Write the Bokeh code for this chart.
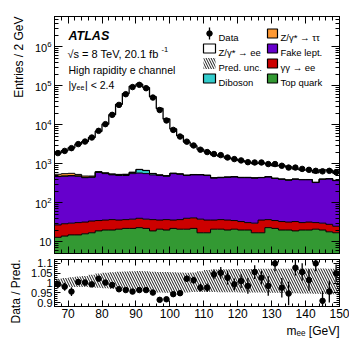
import numpy as np
from bokeh.plotting import figure
from bokeh.models import (Range1d, FixedTicker, LinearAxis, LogAxis, Label, LinearScale,
                          CustomJSTickFormatter, Title)
from bokeh.layouts import column
from bokeh.embed import file_html
from bokeh.resources import INLINE

FONT = "Liberation Sans"

# ---------------- data (bins of 2 GeV, 66-150 GeV) ----------------
edges = np.arange(66, 151, 2)
centers = edges[:-1] + 1

data_counts = [1880, 2140, 2520, 3200, 3720, 4720, 7000, 10400, 18000, 32400,
               61000, 93000, 106000, 87000, 50000, 24000, 12900, 7400, 5000, 3700,
               2950, 2300, 2000, 1780, 1670, 1450, 1320, 1220, 1100, 1080,
               1080, 985, 985, 890, 800, 800, 740, 700, 660, 640,
               660, 610]

top_quark = [13, 14, 15, 15, 16, 17, 19, 20, 20, 21,
             22, 22, 23, 22, 19, 21, 20, 22, 21, 21,
             22, 17, 17, 21, 21, 20, 21, 20, 20, 17,
             17, 23, 22, 20, 20, 19, 20, 20, 21, 20,
             18, 17]
gamgam = [14, 15, 15, 16, 16, 17, 16, 16, 17, 15,
          15, 16, 17, 16, 18, 15, 17, 14, 16, 19,
          19, 21, 19, 15, 16, 16, 14, 13, 11, 13,
          19, 14, 13, 13, 12, 14, 11, 12, 10, 10,
          10, 8]
fake = [443, 451, 460, 449, 408, 416, 565, 524, 483, 464,
        463, 522, 540, 522, 483, 464, 443, 524, 503, 460,
        479, 482, 464, 394, 403, 414, 425, 407, 409, 400,
        404, 423, 385, 367, 348, 367, 359, 358, 299, 370,
        382, 345]
diboson = [8, 8, 9, 9, 10, 10, 12, 14, 18, 25,
           30, 40, 130, 110, 40, 15, 10, 9, 8, 8,
           8, 7, 7, 7, 7, 6, 6, 6, 6, 5,
           5, 5, 5, 5, 5, 5, 4, 4, 4, 4,
           4, 4]
tautau = [60, 70, 70, 45, 35, 25, 20, 15, 12, 10,
          10, 10, 10, 8, 7, 6, 6, 5, 5, 5,
          4, 4, 4, 3, 3, 3, 3, 3, 3, 3,
          2, 2, 2, 2, 2, 2, 2, 2, 2, 2,
          2, 2]
zee = [1350, 1620, 2000, 2650, 3230, 4270, 6200, 9800, 17600, 32900,
       62700, 96700, 109000, 89600, 52000, 25700, 13600, 7270, 4720, 3100,
       2370, 1820, 1530, 1260, 1130, 950, 850, 750, 660, 580,
       600, 525, 460, 500, 450, 330, 300, 290, 260, 290,
       270, 200]

ratio = [0.993, 0.981, 0.956, 1.005, 1.002, 0.993, 1.022, 1.002, 0.990, 0.968,
         0.964, 0.956, 0.964, 0.964, 0.951, 0.914, 0.917, 0.943, 0.948, 1.022,
         1.014, 0.976, 0.976, 1.044, 1.052, 1.027, 0.993, 1.010, 0.985, 1.056,
         1.027, 0.985, 1.100, 0.976, 0.946, 1.078, 1.056, 1.015, 1.100, 0.909,
         0.956, 1.049]
ratio_err = [0.020, 0.020, 0.022, 0.015, 0.014, 0.012, 0.010, 0.008, 0.006, 0.005,
             0.004, 0.004, 0.004, 0.004, 0.005, 0.006, 0.008, 0.011, 0.014, 0.016,
             0.018, 0.020, 0.022, 0.025, 0.030, 0.035, 0.030, 0.035, 0.040, 0.035,
             0.035, 0.050, 0.040, 0.050, 0.060, 0.040, 0.045, 0.055, 0.040, 0.050,
             0.055, 0.045]
band_low = [0.981, 0.981, 0.980, 0.980, 0.979, 0.977, 0.976, 0.973, 0.970, 0.968,
            0.965, 0.962, 0.959, 0.957, 0.955, 0.952, 0.950, 0.949, 0.949, 0.952,
            0.954, 0.954, 0.954, 0.954, 0.953, 0.953, 0.953, 0.952, 0.952, 0.951,
            0.951, 0.950, 0.950, 0.949, 0.948, 0.948, 0.947, 0.946, 0.945, 0.944,
            0.943, 0.943]
band_high = [1.022, 1.026, 1.030, 1.033, 1.036, 1.042, 1.049, 1.052, 1.055, 1.057,
             1.059, 1.060, 1.061, 1.060, 1.058, 1.056, 1.056, 1.055, 1.054, 1.052,
             1.054, 1.060, 1.066, 1.069, 1.070, 1.070, 1.071, 1.071, 1.072, 1.072,
             1.073, 1.073, 1.073, 1.073, 1.073, 1.074, 1.074, 1.074, 1.074, 1.074,
             1.073, 1.073]

x_major = [70, 80, 90, 100, 110, 120, 130, 140, 150]
y_major = [10, 1e2, 1e3, 1e4, 1e5, 1e6]
r_major = [0.9, 0.95, 1.0, 1.05, 1.1]
r_labels = ["0.9", "0.95", "1", "1.05", "1.1"]

components = [("Top quark", top_quark, "#339933"),
              ("\u03b3\u03b3 \u2192 ee", gamgam, "#cc0000"),
              ("Fake lept.", fake, "#6600cc"),
              ("Diboson", diboson, "#33cccc"),
              ("Z/\u03b3* \u2192 \u03c4\u03c4", tautau, "#ff9933"),
              ("Z/\u03b3* \u2192 ee", zee, "#ffffff")]

# ---------------- layout constants ----------------
W = 349
FW, FH = 285, 237
x_range = Range1d(66, 150)
x_minor = list(range(66, 151, 2))
y_minor = [k * 10 ** n for n in range(0, 7) for k in range(2, 10)]
r_minor = [round(0.88 + 0.01 * i, 2) for i in range(25)]


def ext(a):
    a = np.asarray(a, dtype=float)
    return np.append(a, a[-1])


def style(ax, labels=True, tin=7, tmin=4, size="12px", standoff=3):
    ax.major_tick_in = tin
    ax.major_tick_out = 0
    ax.minor_tick_in = tmin
    ax.minor_tick_out = 0
    ax.axis_line_color = "black"
    ax.major_tick_line_color = "black"
    ax.minor_tick_line_color = "black"
    if labels:
        ax.major_label_text_font = FONT
        ax.major_label_text_font_size = size
        ax.major_label_text_color = "black"
        ax.major_label_standoff = standoff
    else:
        ax.formatter = CustomJSTickFormatter(code="return ''")
        ax.major_label_text_font_size = "2px"
        ax.major_label_standoff = 0


def side_title(fig, text, side, standoff):
    fig.add_layout(Title(text=text, align="right", text_font=FONT, text_font_size="12px",
                         text_font_style="normal", text_color="black", standoff=standoff,
                         offset=0), side)


p = figure(width=W, height=256, x_range=x_range, y_range=Range1d(5, 6e6),
           y_axis_type="log", output_backend="svg", toolbar_location=None,
           min_border_left=54, min_border_right=10, min_border_top=16, min_border_bottom=3,
           extra_x_ranges={"lx": Range1d(0, FW)}, extra_y_ranges={"ly": Range1d(0, FH)},
           extra_x_scales={"lx": LinearScale()}, extra_y_scales={"ly": LinearScale()})
p.xgrid.visible = False
p.ygrid.visible = False
p.outline_line_color = "black"
p.background_fill_color = "white"
p.border_fill_color = "white"

cum = np.zeros(len(centers))
tops = []
for name, vals, color in components:
    top = cum + np.array(vals, dtype=float)
    p.varea_step(x=edges, y1=ext(np.maximum(cum, 1.0)), y2=ext(top), step_mode="after",
                 fill_color=color)
    tops.append(top)
    cum = top
total = cum

# hatched prediction uncertainty on the total
p.varea_step(x=edges, y1=ext(total * np.array(band_low)), y2=ext(total * np.array(band_high)),
             step_mode="after", fill_alpha=0, hatch_pattern="\\", hatch_color="#555555",
             hatch_scale=5, hatch_weight=0.8)

for i, top in enumerate(tops):
    p.step(x=edges, y=ext(top), mode="after", line_color="black",
           line_width=1.3 if i == len(tops) - 1 else 1)

p.scatter(x=centers, y=data_counts, size=5.5, color="black")

# axes
p.xaxis.ticker = FixedTicker(ticks=x_major, minor_ticks=x_minor)
style(p.xaxis[0], labels=False, tin=7, tmin=4)
p.yaxis.ticker = FixedTicker(ticks=y_major, minor_ticks=y_minor)
style(p.yaxis[0], labels=True, tin=8, tmin=4, size="11px", standoff=3)
p.yaxis.major_label_overrides = {10: "10"}
ax_top = LinearAxis(ticker=FixedTicker(ticks=x_major, minor_ticks=x_minor))
style(ax_top, labels=False, tin=7, tmin=4)
p.add_layout(ax_top, "above")
ax_right = LogAxis(ticker=FixedTicker(ticks=y_major, minor_ticks=y_minor))
style(ax_right, labels=False, tin=8, tmin=4)
p.add_layout(ax_right, "right")
side_title(p, "Entries / 2 GeV", "left", 12)


def lab(fig, x, y, text, size="10.5px", style_="normal", align="left"):
    fig.add_layout(Label(x=x, y=y, x_units="screen", y_units="screen", text=text,
                         text_font=FONT, text_font_size=size, text_font_style=style_,
                         text_align=align, text_baseline="alphabetic",
                         text_color="black"))


lab(p, 14, 218, "ATLAS", size="12.5px", style_="bold italic")
lab(p, 13, 200, "\u221as = 8 TeV, 20.1 fb", size="11px")
lab(p, 107, 204.5, "-1", size="7.5px")
lab(p, 14, 183.5, "High rapidity e channel", size="10.5px")
lab(p, 14, 168.5, "|y", size="10.5px")
lab(p, 22, 166, "ee", size="7px")
lab(p, 30.5, 168.5, "| < 2.4", size="10.5px")

# legend (drawn in frame pixel coordinates)
leg_rows = [220, 205, 190, 175]
col1_x, col2_x = 149, 213
gw, gh = 12, 9
p.segment(x0=[col1_x + gw / 2], y0=[leg_rows[0] - 6], x1=[col1_x + gw / 2], y1=[leg_rows[0] + 6],
          line_color="black", line_width=1.3, x_range_name="lx", y_range_name="ly")
p.scatter(x=[col1_x + gw / 2], y=[leg_rows[0]], size=5.5, color="black",
          x_range_name="lx", y_range_name="ly")
p.quad(left=[col1_x], right=[col1_x + gw], bottom=[leg_rows[1] - gh / 2], top=[leg_rows[1] + gh / 2],
       fill_color="white", line_color="black", line_width=1.2, x_range_name="lx", y_range_name="ly")
p.quad(left=[col1_x], right=[col1_x + gw], bottom=[leg_rows[2] - gh / 2 - 1], top=[leg_rows[2] + gh / 2 + 1],
       fill_alpha=0, line_color=None, hatch_pattern="\\", hatch_color="black", hatch_scale=5,
       hatch_weight=0.9, x_range_name="lx", y_range_name="ly")
p.quad(left=[col1_x], right=[col1_x + gw], bottom=[leg_rows[3] - gh / 2], top=[leg_rows[3] + gh / 2],
       fill_color="#33cccc", line_color="black", line_width=1.2, x_range_name="lx", y_range_name="ly")
col1_labels = ["Data", "Z/\u03b3* \u2192 ee", "Pred. unc.", "Diboson"]
for yy, t in zip(leg_rows, col1_labels):
    lab(p, col1_x + gw + 3, yy - 3.5, t, size="9.5px")
col2 = [("Z/\u03b3* \u2192 \u03c4\u03c4", "#ff9933"), ("Fake lept.", "#6600cc"),
        ("\u03b3\u03b3 \u2192 ee", "#cc0000"), ("Top quark", "#339933")]
for yy, (t, c) in zip(leg_rows, col2):
    p.quad(left=[col2_x], right=[col2_x + 10], bottom=[yy - gh / 2], top=[yy + gh / 2],
           fill_color=c, line_color="black", line_width=1.2, x_range_name="lx", y_range_name="ly")
    lab(p, col2_x + 13, yy - 3.5, t, size="9.5px")

# ---------------- ratio panel ----------------
p2 = figure(width=W, height=88, x_range=x_range, y_range=Range1d(0.88, 1.12),
            output_backend="svg", toolbar_location=None,
            min_border_left=54, min_border_right=10, min_border_top=3, min_border_bottom=38)
p2.xgrid.visible = False
p2.ygrid.visible = False
p2.outline_line_color = "black"

p2.varea_step(x=edges, y1=ext(band_low), y2=ext(band_high), step_mode="after", fill_alpha=0,
              hatch_pattern="\\", hatch_color="black", hatch_scale=5, hatch_weight=0.9)
r = np.array(ratio)
e = np.array(ratio_err)
p2.segment(x0=centers, y0=r - e, x1=centers, y1=r + e, line_color="black", line_width=1.3)
p2.scatter(x=centers, y=ratio, size=5.5, color="black")

p2.xaxis.ticker = FixedTicker(ticks=x_major, minor_ticks=x_minor)
style(p2.xaxis[0], labels=True, tin=6, tmin=3, size="12px", standoff=2)
p2.yaxis.ticker = FixedTicker(ticks=r_major, minor_ticks=r_minor)
style(p2.yaxis[0], labels=True, tin=6, tmin=3, size="11px", standoff=2)
p2.yaxis.major_label_overrides = {k: v for k, v in zip(r_major, r_labels)}
ax2_top = LinearAxis(ticker=FixedTicker(ticks=x_major, minor_ticks=x_minor))
style(ax2_top, labels=False, tin=6, tmin=3)
p2.add_layout(ax2_top, "above")
ax2_right = LinearAxis(ticker=FixedTicker(ticks=r_major, minor_ticks=r_minor))
style(ax2_right, labels=False, tin=6, tmin=3)
p2.add_layout(ax2_right, "right")
side_title(p2, "m\u2091\u2091 [GeV]", "below", 2)
side_title(p2, "Data / Pred.", "left", 12)

layout = column(p, p2, spacing=0)
open("out.html", "w").write(file_html(layout, INLINE))
